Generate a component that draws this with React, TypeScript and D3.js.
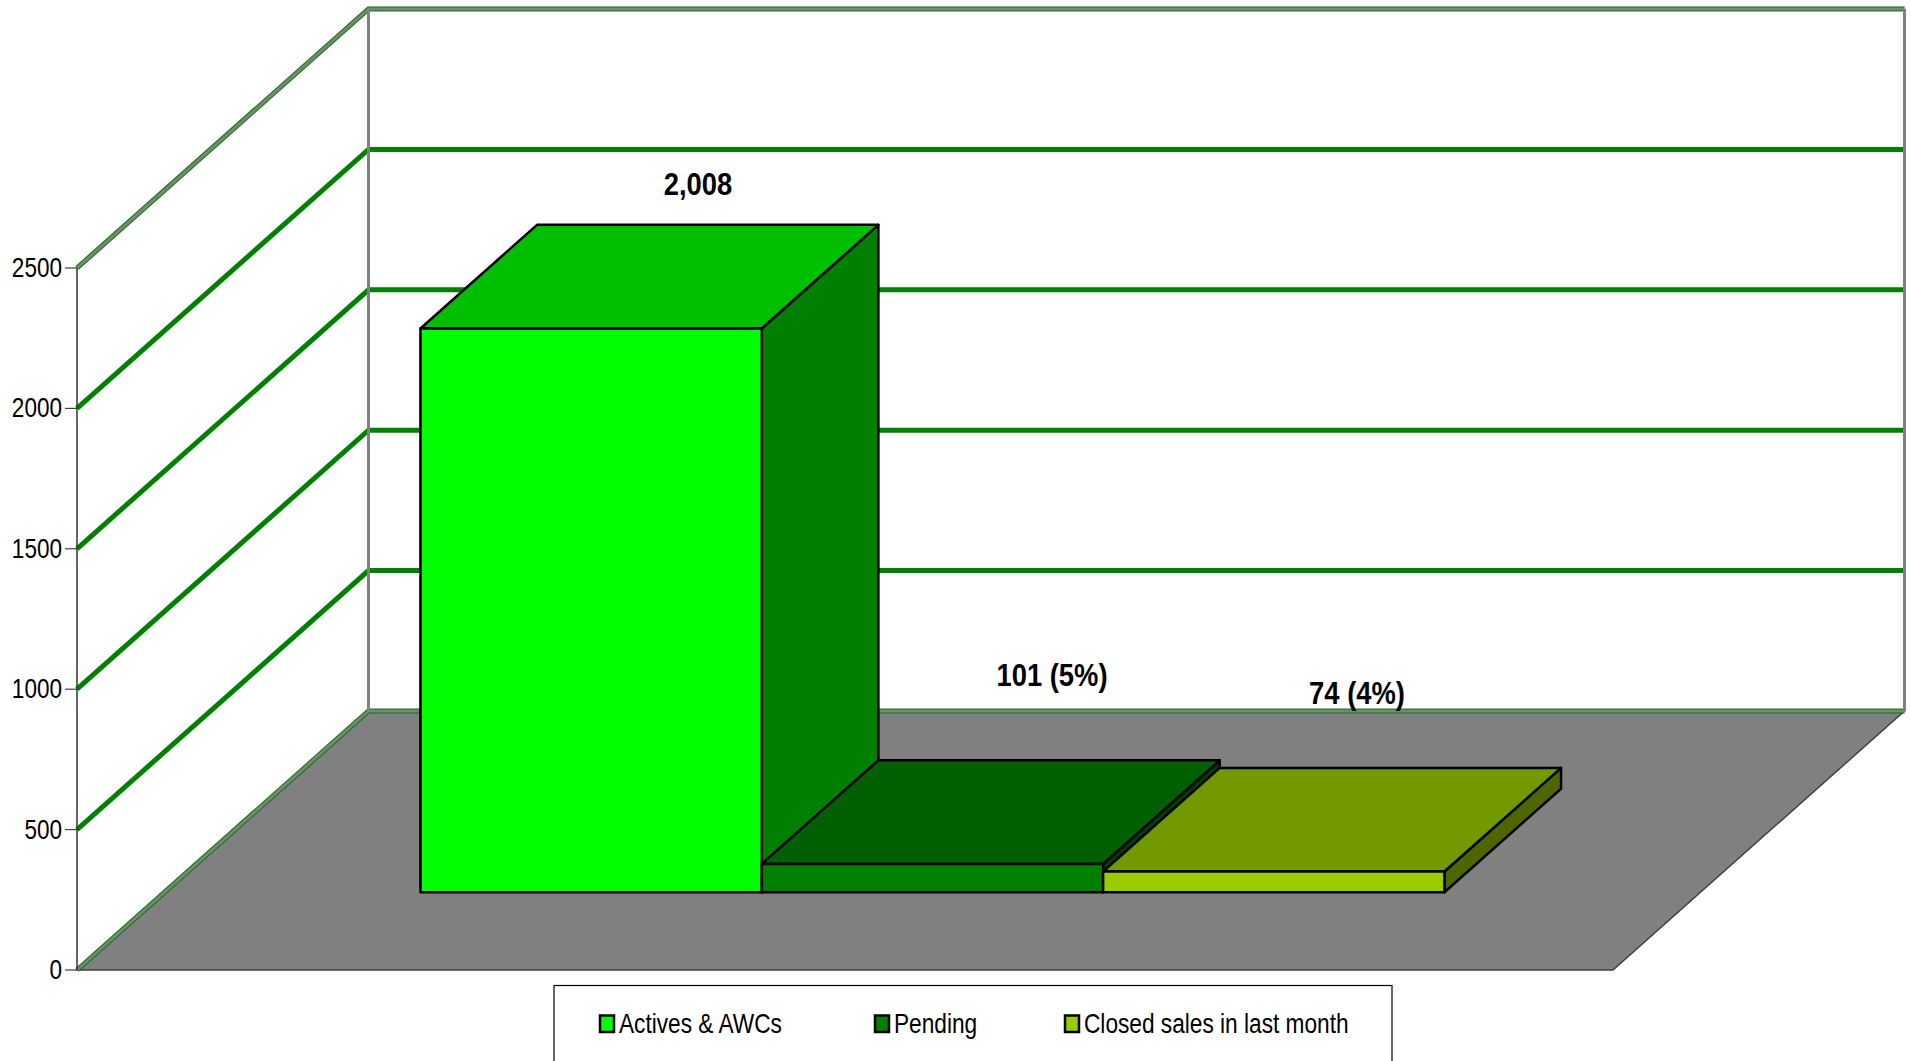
import React from 'react';
import * as d3 from 'd3';

const categories = ['Actives & AWCs', 'Pending', 'Closed sales in last month'];
const values = [2008, 101, 74];
const valueLabels = ['2,008', '101 (5%)', '74 (4%)'];
const yTicks = [0, 500, 1000, 1500, 2000, 2500];
const frontColors = ['#00ff00', '#007f00', '#99cc00'];
const topColors = ['#00bf00', '#005f00', '#739900'];
const sideColors = ['#007f00', '#003f00', '#4d6600'];

const W = 1911;
const H = 1061;
const axisX = 77;
const floorY = 970;
const topY = 268;
const floorRight = 1613;
const depthX = 291.5;
const depthY = 259;
const font = '"Liberation Sans", Arial, sans-serif';

const y = d3.scaleLinear().domain([0, 2500]).range([floorY, topY]);
const x = d3.scaleBand().domain(categories).range([axisX, floorRight]).paddingInner(0).paddingOuter(0.75);
const line = d3.line();

// where the bars sit in the depth of the floor, 0 is front and 1 is back
const depth = d3.scaleLinear().domain([0, 1]).range([0, 1]);
const dx = (d: number) => depth(d) * depthX;
const dy = (d: number) => depth(d) * depthY;

// data labels are hand placed in the original chart
const labelPos = [[698, 195], [1052, 686], [1357, 704]];
const legendX = [600, 875, 1065];

const Squeezed = ({ x, y, size, anchor, weight, sx, children }: any) => (
  <text
    transform={`translate(${x},${y}) scale(${sx},1)`}
    textAnchor={anchor}
    fontFamily={font}
    fontSize={size}
    fontWeight={weight}
    fill="#000"
  >
    {children}
  </text>
);

const Bar = ({ i }: { i: number }) => {
  const name = categories[i];
  const x0 = x(name)! + dx(0.3);
  const x1 = x0 + x.bandwidth();
  const yb = y(0) - dy(0.3);
  const yt = yb - (y(0) - y(values[i]));
  const ox = dx(0.4);
  const oy = dy(0.4);
  const st = { stroke: '#000', strokeWidth: 2.5, strokeLinejoin: 'round' as const };
  return (
    <g>
      <path
        d={line([[x1, yb], [x1, yt], [x1 + ox, yt - oy], [x1 + ox, yb - oy]])! + 'Z'}
        fill={sideColors[i]}
        {...st}
      />
      <path
        d={line([[x0, yt], [x1, yt], [x1 + ox, yt - oy], [x0 + ox, yt - oy]])! + 'Z'}
        fill={topColors[i]}
        {...st}
      />
      <rect x={x0} y={yt} width={x1 - x0} height={yb - yt} fill={frontColors[i]} {...st} />
    </g>
  );
};

export default function App() {
  const gridLine = (v: number) =>
    line([
      [axisX, y(v)],
      [axisX + depthX, y(v) - depthY],
      [floorRight + depthX, y(v) - depthY],
    ])!;

  return (
    <svg
      width={W}
      height={H}
      viewBox={`0 0 ${W} ${H}`}
      style={{ position: 'absolute', left: 0, top: 0, background: '#fff' }}
    >
      {/* floor */}
      <path
        d={line([
          [axisX, floorY],
          [axisX + depthX, floorY - depthY],
          [floorRight + depthX, floorY - depthY],
          [floorRight, floorY],
        ])! + 'Z'}
        fill="#808080"
        stroke="#404040"
        strokeWidth={1.5}
      />

      {/* gridlines */}
      {yTicks.map((t) => (
        <path key={t} d={gridLine(t)} fill="none" stroke="#008000" strokeWidth={5} />
      ))}
      {[0, 2500].map((t) => (
        <path key={t} d={gridLine(t)} fill="none" stroke="#808080" strokeWidth={3} />
      ))}

      {/* back wall edges */}
      <line x1={axisX + depthX} x2={axisX + depthX} y1={y(2500) - depthY} y2={y(0) - depthY} stroke="#808080" strokeWidth={3} />
      <line x1={floorRight + depthX} x2={floorRight + depthX} y1={y(2500) - depthY} y2={y(0) - depthY} stroke="#808080" strokeWidth={3} />

      {/* value axis */}
      <line x1={axisX} x2={axisX} y1={y(2500)} y2={y(0)} stroke="#333" strokeWidth={1.5} />
      {yTicks.map((t) => (
        <g key={t}>
          <line x1={axisX - 12} x2={axisX} y1={y(t)} y2={y(t)} stroke="#404040" strokeWidth={1.2} />
          <Squeezed x={62} y={y(t) + 9} size={27.5} anchor="end" sx={0.82}>
            {t}
          </Squeezed>
        </g>
      ))}

      {categories.map((c, i) => (
        <Bar key={c} i={i} />
      ))}

      {valueLabels.map((l, i) => (
        <Squeezed key={l} x={labelPos[i][0]} y={labelPos[i][1]} size={32} anchor="middle" weight="bold" sx={0.855}>
          {l}
        </Squeezed>
      ))}

      {/* legend */}
      <rect x={554} y={985.5} width={838} height={100} fill="#fff" stroke="#000" strokeWidth={1.2} />
      {categories.map((c, i) => (
        <g key={c}>
          <rect x={legendX[i]} y={1015.5} width={14} height={16.5} fill={frontColors[i]} stroke="#000" strokeWidth={2.5} />
          <Squeezed x={legendX[i] + 19} y={1033} size={27.5} anchor="start" sx={0.825}>
            {c}
          </Squeezed>
        </g>
      ))}
    </svg>
  );
}
